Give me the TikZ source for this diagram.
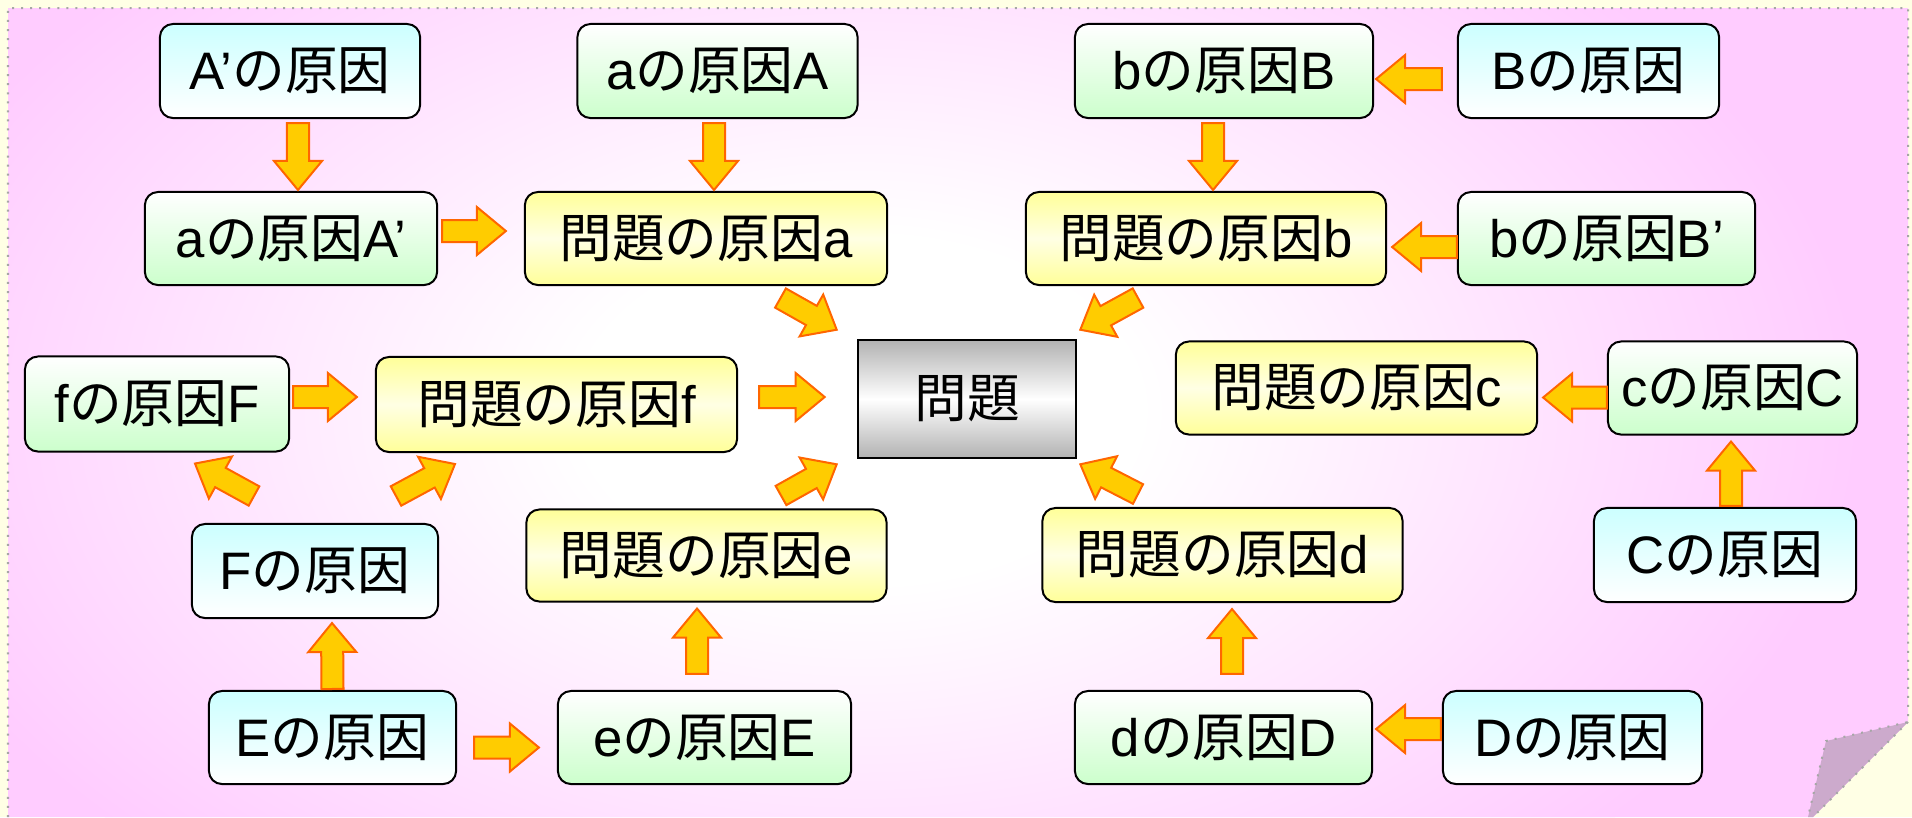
\documentclass[tikz,border=0pt]{standalone}
\usepackage{fontspec}
\setmainfont{Liberation Sans}
\newfontfamily\jpfont{Noto Sans CJK JP}
\usetikzlibrary{calc}
\definecolor{cream}{RGB}{255,255,229}
\definecolor{sheetpink}{RGB}{255,204,255}
\definecolor{foldc}{RGB}{204,170,204}
\definecolor{bluetop}{RGB}{204,255,255}
\definecolor{greenbot}{RGB}{204,255,204}
\definecolor{yel}{RGB}{255,255,153}
\definecolor{yelmid}{RGB}{255,255,228}
\definecolor{grayend}{RGB}{178,178,178}
\definecolor{arrfill}{RGB}{255,204,0}
\definecolor{arrline}{RGB}{255,102,0}
\pgfdeclareradialshading{sheetshade}{\pgfpoint{0bp}{0bp}}{color(0bp)=(white); color(7bp)=(white); color(25bp)=(sheetpink); color(50bp)=(sheetpink)}
\newcommand\jt[1]{{\jpfont #1}}
\newcommand\blockarr[2]{%
  \path #1 coordinate (bs) #2 coordinate (be);
  \path ($(be)!2.9mm!(bs)$) coordinate (bh);
  \filldraw[blockarrow] ($(bs)!1.1mm!90:(be)$) -- ($(bh)!1.1mm!90:(be)$) -- ($(bh)!2.4mm!90:(be)$) -- (be) -- ($(bh)!2.4mm!-90:(be)$) -- ($(bh)!1.1mm!-90:(be)$) -- ($(bs)!1.1mm!-90:(be)$) -- cycle;}
\tikzset{
  blockarrow/.style={fill=arrfill, draw=arrline, line width=0.2mm, line join=miter},
  box/.style={draw=black, line width=0.2mm, rounded corners=1.3mm, inner sep=0pt, font=\fontsize{15}{18}\selectfont, align=center},
  sz/.style 2 args={minimum width=#1mm, minimum height=#2mm},
  bluebox/.style={box, top color=bluetop, bottom color=white},
  greenbox/.style={box, top color=white, bottom color=greenbot},
  yelbox/.style={box, top color=yel, bottom color=yel, middle color=yelmid},
  mainbox/.style={draw=black, line width=0.25mm, inner sep=0pt, font=\fontsize{15}{18}\selectfont, top color=grayend, bottom color=grayend, middle color=white},
}
\begin{document}
\begin{tikzpicture}[x=0.01cm, y=-0.01cm]
\useasboundingbox (0,0) rectangle (1912,817);
\fill[cream] (0,0) rectangle (1912,817);
\fill[sheetpink] (8,8) -- (1908,8) -- (1908,722) -- (1813,817) -- (8,817) -- cycle;
\begin{scope}
  \clip (8,8) -- (1908,8) -- (1908,722) -- (1813,817) -- (8,817) -- cycle;
  \shade[shading=sheetshade] (860,410) ellipse [x radius=10cm, y radius=6.2cm];
\end{scope}
\fill[foldc] (1908,722) -- (1826,741) -- (1808,817) -- (1813,817) -- cycle;
\draw[gray!70, dotted, line width=0.2mm] (8,817) -- (8,8) -- (1908,8) -- (1908,722) -- (1826,741) -- (1808,817);
\draw[gray!70, dotted, line width=0.2mm] (1908,722) -- (1813,817);

% nodes
\node[bluebox, sz={26}{9.4}] (Ap) at (290,71) {A’\jt{の原因}};
\node[greenbox, sz={28}{9.4}] (aA) at (717.5,71) {a\jt{の原因}A};
\node[greenbox, sz={29.8}{9.4}] (bB) at (1224,71) {b\jt{の原因}B};
\node[bluebox, sz={26.1}{9.4}] (Bc) at (1588.5,71) {B\jt{の原因}};
\node[greenbox, sz={29.2}{9.3}] (aAp) at (291,238.5) {a\jt{の原因}A’};
\node[yelbox, sz={36.2}{9.3}] (pa) at (706,238.5) {\jt{問題の原因}a};
\node[yelbox, sz={36}{9.3}] (pb) at (1206,238.5) {\jt{問題の原因}b};
\node[greenbox, sz={29.7}{9.3}] (bBp) at (1606.5,238.5) {b\jt{の原因}B’};
\node[greenbox, sz={26.4}{9.5}] (fF) at (157,404) {f\jt{の原因}F};
\node[yelbox, sz={36.1}{9.5}] (pf) at (556.5,404.5) {\jt{問題の原因}f};
\node[mainbox, sz={21.8}{11.8}] (P) at (967,399) {\jt{問題}};
\node[yelbox, sz={36.1}{9.3}] (pc) at (1356.5,388) {\jt{問題の原因}c};
\node[greenbox, sz={24.9}{9.3}] (cC) at (1732.5,388) {c\jt{の原因}C};
\node[bluebox, sz={24.6}{9.4}] (Fc) at (315,571) {F\jt{の原因}};
\node[yelbox, sz={36}{9.2}] (pe) at (706.5,555.5) {\jt{問題の原因}e};
\node[yelbox, sz={36}{9.4}] (pd) at (1222.5,555) {\jt{問題の原因}d};
\node[bluebox, sz={26.2}{9.4}] (Cc) at (1725,555) {C\jt{の原因}};
\node[bluebox, sz={24.7}{9.3}] (Ec) at (332.5,737.5) {E\jt{の原因}};
\node[greenbox, sz={29.3}{9.3}] (eE) at (704.5,737.5) {e\jt{の原因}E};
\node[greenbox, sz={29.7}{9.3}] (dD) at (1223.5,737.5) {d\jt{の原因}D};
\node[bluebox, sz={25.9}{9.3}] (Dc) at (1572.5,737.5) {D\jt{の原因}};

% block arrows
\blockarr{($(Ap.south)+(8,4)$)}{($(aAp.north)+(7,-1)$)}
\blockarr{($(aAp.east)+(4,-7.5)$)}{($(pa.west)+(-18,-7.5)$)}
\blockarr{($(aA.south)+(-3.5,4)$)}{($(pa.north)+(8,-1)$)}
\blockarr{($(bB.south)+(-11,4)$)}{($(pb.north)+(7,-1)$)}
\blockarr{($(Bc.west)+(-15,8)$)}{($(bB.east)+(2,8)$)}
\blockarr{($(bBp.west)+(0,8.5)$)}{($(pb.east)+(5,8.5)$)}
\blockarr{($(pa.south)+(74.5,12)$)}{($(P.north west)+(-20,-9)$)}
\blockarr{($(pb.south)+(-68,12)$)}{($(P.north east)+(3,-9)$)}
\blockarr{($(pf.east)+(21,-7.5)$)}{($(P.west)+(-32,-2)$)}
\blockarr{($(pe.north)+(74.5,-13)$)}{($(P.south west)+(-20,5)$)}
\blockarr{($(pd.north)+(-84.5,-13)$)}{($(P.south east)+(3,5)$)}
\blockarr{($(fF.east)+(3,-7)$)}{($(pf.west)+(-18,-7.5)$)}
\blockarr{($(Fc.north)+(-61,-27)$)}{($(fF.south)+(38,11)$)}
\blockarr{($(Fc.north)+(81,-27)$)}{($(pf.south)+(-101.5,11)$)}
\blockarr{($(cC.west)+(0,9.5)$)}{($(pc.east)+(5,9.5)$)}
\blockarr{($(Cc.north)+(6,-1)$)}{($(cC.south)+(-1.5,6)$)}
\blockarr{($(Ec.north)+(0,-1)$)}{($(Fc.south)+(17,4)$)}
\blockarr{($(Ec.east)+(17,10)$)}{($(eE.west)+(-18,10)$)}
\blockarr{($(eE.north)+(-7.5,-16)$)}{($(pe.south)+(-9.5,6)$)}
\blockarr{($(dD.north)+(8.5,-16)$)}{($(pd.south)+(9.5,6)$)}
\blockarr{($(Dc.west)+(-1,-8.5)$)}{($(dD.east)+(3,-8.5)$)}
\end{tikzpicture}
\end{document}
